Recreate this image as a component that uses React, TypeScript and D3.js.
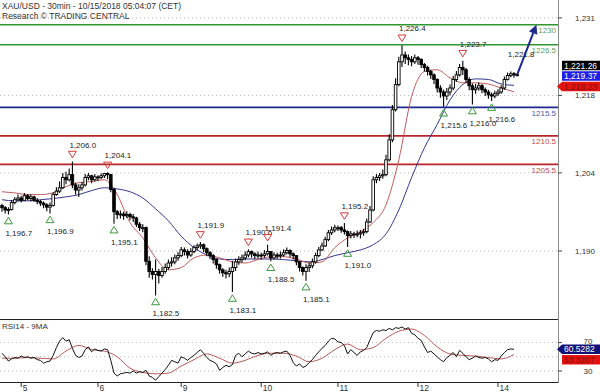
import React from 'react';
import * as d3 from 'd3';

const title = 'XAU/USD - 30min - 10/15/2018 05:04:07 (CET)';
const subtitle = 'Research \u00a9 TRADING CENTRAL';
const rsiTitle = 'RSI14 - 9MA';

const firstOpen = 1198.3;
const closes = [
  1197.9, 1197.5, 1197.6, 1198.8, 1199.3, 1199.6, 1199.2, 1200.0, 1199.5, 1199.8,
  1199.2, 1199.0, 1198.7, 1198.4, 1198.0, 1198.3, 1200.2, 1200.8, 1201.4, 1203.2,
  1202.8, 1203.7, 1201.9, 1201.0, 1201.4, 1201.9, 1203.2, 1203.5, 1202.8, 1203.3,
  1203.2, 1203.5, 1203.9, 1203.7, 1201.1, 1197.2, 1196.7, 1196.8, 1196.5, 1196.7,
  1196.3, 1196.1, 1195.0, 1194.4, 1194.4, 1188.5, 1186.7, 1186.2, 1186.7, 1186.0,
  1186.7, 1187.4, 1188.2, 1188.4, 1189.1, 1189.5, 1190.5, 1190.2, 1189.6, 1190.2,
  1190.9, 1191.2, 1191.4, 1190.7, 1190.0, 1189.5, 1188.8, 1187.9, 1187.0, 1186.5,
  1186.3, 1186.7, 1187.4, 1188.4, 1188.8, 1189.1, 1189.6, 1190.2, 1189.8, 1189.5,
  1189.6, 1189.5, 1189.8, 1190.2, 1189.1, 1189.6, 1189.5, 1189.6, 1190.0, 1190.4,
  1189.8, 1189.5, 1188.4, 1187.4, 1186.7, 1187.4, 1187.7, 1188.4, 1189.5, 1190.5,
  1191.2, 1192.3, 1193.5, 1194.0, 1194.4, 1194.4, 1194.0, 1193.7, 1193.0, 1193.3,
  1193.2, 1193.3, 1193.5, 1193.7, 1195.4, 1197.5, 1202.8, 1203.2, 1203.5, 1203.7,
  1206.3, 1209.8, 1215.1, 1219.5, 1223.5, 1224.7, 1224.2, 1223.9, 1223.5, 1224.2,
  1223.9, 1223.0, 1222.5, 1221.8, 1221.2, 1220.4, 1218.9, 1218.2, 1217.5, 1218.2,
  1218.9, 1220.4, 1221.2, 1222.5, 1222.1, 1220.4, 1219.3, 1218.6, 1218.9, 1219.3,
  1218.6, 1218.2, 1217.7, 1217.5, 1217.9, 1218.2, 1218.9, 1220.4, 1221.1, 1221.4,
  1221.2, 1221.26,
];
const highs = [
  1198.6, 1198.2, 1198.0, 1199.2, 1199.8, 1200.2, 1200.0, 1200.5, 1200.3, 1200.2,
  1200.0, 1199.6, 1199.3, 1199.0, 1198.7, 1198.8, 1200.6, 1201.5, 1202.5, 1204.0,
  1204.2, 1204.8, 1206.0, 1202.3, 1202.0, 1202.4, 1203.8, 1204.0, 1203.7, 1203.8,
  1203.6, 1203.9, 1204.0, 1204.1, 1203.8, 1201.4, 1197.5, 1197.4, 1197.2, 1197.3,
  1197.0, 1196.8, 1196.3, 1195.4, 1195.0, 1194.6, 1189.4, 1187.3, 1188.8, 1187.2,
  1187.5, 1188.1, 1188.8, 1189.2, 1189.7, 1190.1, 1191.0, 1190.9, 1190.6, 1190.8,
  1191.3, 1191.6, 1191.9, 1191.6, 1190.9, 1190.3, 1189.8, 1189.0, 1188.1, 1187.3,
  1187.0, 1187.4, 1188.6, 1189.0, 1189.4, 1189.7, 1190.2, 1190.6, 1190.4, 1190.1,
  1190.2, 1190.0, 1190.5, 1191.4, 1190.3, 1190.1, 1190.0, 1190.2, 1190.6, 1190.9,
  1190.6, 1190.1, 1189.6, 1188.5, 1187.6, 1188.0, 1188.3, 1189.0, 1190.0, 1191.0,
  1191.8, 1192.8, 1194.0, 1194.6, 1194.9, 1194.8, 1194.7, 1195.2, 1193.9, 1193.8,
  1193.7, 1193.9, 1194.0, 1194.2, 1196.0, 1198.2, 1203.4, 1203.8, 1204.0, 1204.6,
  1207.2, 1210.8, 1215.9, 1220.6, 1224.4, 1226.4, 1225.3, 1224.8, 1224.5, 1224.8,
  1224.5, 1224.1, 1223.3, 1222.8, 1222.1, 1221.5, 1220.6, 1219.4, 1218.6, 1218.9,
  1219.5, 1221.0, 1221.9, 1223.1, 1223.7, 1222.4, 1220.8, 1219.7, 1219.6, 1219.9,
  1219.6, 1219.0, 1218.6, 1218.1, 1218.4, 1218.7, 1219.4, 1220.9, 1221.6, 1221.8,
  1221.7, 1221.5,
];
const lows = [
  1197.2, 1196.9, 1196.7, 1197.4, 1198.5, 1199.0, 1198.8, 1199.1, 1199.2, 1199.0,
  1198.9, 1198.5, 1198.2, 1197.8, 1197.3, 1196.9, 1198.1, 1200.0, 1200.5, 1201.2,
  1202.0, 1202.5, 1201.3, 1200.2, 1199.8, 1200.9, 1201.6, 1202.7, 1202.2, 1202.5,
  1202.6, 1202.9, 1203.1, 1202.9, 1200.6, 1195.1, 1195.9, 1196.0, 1195.8, 1196.1,
  1195.7, 1195.4, 1194.5, 1193.8, 1193.6, 1187.8, 1185.6, 1185.3, 1182.5, 1184.6,
  1185.6, 1186.3, 1187.0, 1187.6, 1188.0, 1188.6, 1189.2, 1189.5, 1189.0, 1189.3,
  1189.9, 1190.4, 1190.7, 1190.1, 1189.4, 1188.9, 1188.1, 1187.2, 1186.3, 1185.8,
  1185.5, 1185.7, 1183.1, 1186.8, 1187.9, 1188.3, 1188.7, 1189.2, 1189.1, 1188.9,
  1189.0, 1188.8, 1189.1, 1189.5, 1188.5, 1188.8, 1188.9, 1189.0, 1189.3, 1189.7,
  1189.2, 1188.8, 1187.8, 1186.7, 1186.0, 1185.1, 1186.6, 1187.3, 1188.1, 1189.2,
  1190.3, 1191.0, 1192.0, 1193.1, 1193.6, 1193.8, 1193.5, 1193.2, 1191.0, 1192.5,
  1192.6, 1192.7, 1192.5, 1193.0, 1193.4, 1195.2, 1197.3, 1202.2, 1202.6, 1203.0,
  1203.4, 1206.0, 1209.4, 1214.8, 1219.2, 1222.6, 1223.1, 1222.9, 1222.7, 1223.1,
  1223.0, 1222.4, 1221.8, 1221.1, 1220.5, 1219.6, 1218.1, 1217.2, 1215.6, 1216.8,
  1217.6, 1218.5, 1220.0, 1220.9, 1221.2, 1219.8, 1218.5, 1216.0, 1217.9, 1218.4,
  1218.0, 1217.5, 1217.0, 1216.6, 1217.1, 1217.5, 1217.9, 1218.6, 1220.2, 1220.8,
  1220.7, 1220.9,
];

// moving averages, one reading every maStep bars
const maStep = 4;
const maFast = [
  1200.7, 1200.5, 1200.2, 1200.2, 1200.5, 1201.6, 1202.3, 1202.5, 1202.8, 1200.2,
  1195.3, 1192.6, 1189.1, 1187.0, 1187.4, 1189.1, 1189.6, 1189.1, 1188.4, 1188.2,
  1188.8, 1189.3, 1189.3, 1188.9, 1188.2, 1188.4, 1190.9, 1192.6, 1193.7, 1195.3,
  1198.4, 1206.3, 1217.4, 1221.8, 1222.1, 1220.7, 1219.8, 1219.8, 1219.6, 1218.9,
  1218.23,
];
const maSlow = [
  1199.3, 1199.1, 1199.1, 1199.3, 1199.5, 1199.8, 1200.2, 1200.9, 1201.4, 1201.2,
  1200.7, 1199.6, 1197.7, 1195.6, 1192.9, 1190.9, 1189.6, 1188.9, 1188.8, 1188.9,
  1188.9, 1188.9, 1188.8, 1188.6, 1188.4, 1188.8, 1189.5, 1190.0, 1190.5, 1191.4,
  1193.3, 1197.5, 1203.2, 1208.4, 1212.5, 1216.8, 1219.5, 1220.5, 1220.4, 1219.6,
  1219.37,
];

const rsi = [
  55, 50, 44, 47, 49, 48, 51, 49, 50, 48, 49, 46, 45, 41, 43, 44, 52, 63, 72, 77,
  72, 74, 62, 52, 49, 51, 60, 64, 57, 61, 59, 58, 61, 60, 45, 27, 23, 26, 27, 28,
  27, 30, 27, 29, 28, 31, 23, 21, 17, 22, 27, 32, 38, 45, 43, 41, 50, 48, 45, 49,
  52, 56, 60, 55, 49, 45, 43, 40, 31, 35, 38, 36, 39, 52, 55, 50, 54, 58, 55, 54,
  56, 54, 55, 57, 52, 55, 56, 55, 57, 58, 52, 42, 37, 40, 35, 37, 42, 46, 52, 57,
  62, 66, 72, 76, 75, 71, 70, 66, 54, 60, 56, 52, 57, 59, 63, 74, 84, 87, 86, 88,
  87, 90, 88, 91, 90, 92, 89, 91, 83, 81, 76, 73, 64, 56, 58, 54, 50, 46, 43, 49,
  52, 56, 50, 59, 55, 50, 46, 48, 51, 49, 48, 49, 47, 43, 46, 45, 51, 56, 60, 61,
  60.5282,
];
const rsiMa = [
  48, 48, 49, 48, 47, 58, 66, 60, 58, 50, 34, 28, 26, 27, 37, 46, 54, 48, 41, 45,
  52, 55, 55, 51, 43, 48, 60, 68, 60, 63, 76, 86, 89, 80, 64, 54, 52, 51, 49, 47,
  53.3207,
];

const levelValues = [1230, 1226.5, 1215.5, 1210.5, 1205.5];
const levelKinds = ['target', 'target', 'pivot', 'support', 'support'];

const priceTicks = [1190.3, 1204.0, 1217.6, 1231.2];
const rsiGrid = [30, 50, 70];
const rsiTickLabels = [30, 70];

const dayTickIdx = [6, 30, 56, 81, 105, 130, 155];
const dayLabels = ['5', '6', '9', '10', '11', '12', '14'];

const peakIdx = [22, 33, 62, 77, 83, 107, 125, 144];
const troughIdx = [2, 15, 35, 48, 72, 84, 95, 108, 138, 147, 153];
const peakLabelOnlyIdx = [159];

const arrowToIndex = 167;
const arrowToValue = 1230;

const FONT = '"Liberation Sans", Arial, sans-serif';

export default function App() {
  const W = 600;
  const H = 392;
  const plotRight = 558;
  const n = closes.length;
  const x = d3.scaleLinear().domain([0, n - 1]).range([2, 517.2]);
  const y = d3.scaleLinear().domain([1178.2, 1234.34]).range([320, 0]);
  const yr = d3.scaleLinear().domain([14.5, 101.8]).range([382, 320]);

  const opens = closes.map((c, i) => (i === 0 ? firstOpen : closes[i - 1]));
  const f1 = d3.format(',.1f');
  const f0 = d3.format(',.0f');
  const f2 = d3.format(',.2f');
  const f4 = d3.format('.4f');

  const maLine = d3
    .line<number>()
    .x((_, i) => x(i * maStep))
    .y((v) => y(v))
    .curve(d3.curveMonotoneX);
  const rsiLine = d3
    .line<number>()
    .x((_, i) => x(i))
    .y((v) => yr(v));
  const rsiMaLine = d3
    .line<number>()
    .x((_, i) => x(i * maStep))
    .y((v) => yr(v))
    .curve(d3.curveMonotoneX);

  const levelColor: Record<string, string> = {
    target: '#2f982f',
    pivot: '#1b2a8c',
    support: '#b8242a',
  };
  const levelText: Record<string, string> = {
    target: '#5aa35a',
    pivot: '#4b5aa8',
    support: '#c24a4a',
  };

  const tri = (cx: number, cy: number, down: boolean) => {
    const w = 4;
    const h = 6.5;
    return down
      ? `M${cx - w},${cy - h / 2}L${cx + w},${cy - h / 2}L${cx},${cy + h / 2}Z`
      : `M${cx - w},${cy + h / 2}L${cx + w},${cy + h / 2}L${cx},${cy - h / 2}Z`;
  };

  // arrow
  const ax0 = x(n - 1);
  const ay0 = y(closes[n - 1]);
  const ax1 = x(arrowToIndex);
  const ay1 = y(arrowToValue);
  const ang = Math.atan2(ay1 - ay0, ax1 - ax0);
  const ah = 9;
  const aw = 4.5;
  const bx = ax1 - ah * Math.cos(ang);
  const by = ay1 - ah * Math.sin(ang);
  const head = `M${ax1},${ay1}L${bx + aw * Math.sin(ang)},${by - aw * Math.cos(ang)}L${bx - aw * Math.sin(ang)},${by + aw * Math.cos(ang)}Z`;

  // tags on the price axis
  const lastFast = maFast[maFast.length - 1];
  const lastSlow = maSlow[maSlow.length - 1];
  const lastPrice = closes[n - 1];
  const tagH = 9.5;
  const tagBlackY = y(lastPrice) - 9;
  const tags = [
    { v: lastPrice, cy: tagBlackY, fill: '#000000', text: '#ffffff', pointer: false },
    { v: lastSlow, cy: tagBlackY + 10.5, fill: '#1f1fe6', text: '#ffffff', pointer: false },
    { v: lastFast, cy: tagBlackY + 21, fill: '#e3140f', text: '#8a0a0a', pointer: true },
  ];
  const lastRsi = rsi[rsi.length - 1];
  const lastRsiMa = rsiMa[rsiMa.length - 1];
  const rsiTagY = yr(lastRsi);
  const rsiTags = [
    { v: lastRsi, cy: rsiTagY, fill: '#111177', text: '#ffffff', pointer: true },
    { v: lastRsiMa, cy: rsiTagY + 10.5, fill: '#e3140f', text: '#8a0a0a', pointer: false },
  ];
  const tagPath = (cy: number, pointer: boolean) =>
    pointer
      ? `M557,${cy}L562,${cy - tagH / 2}L600,${cy - tagH / 2}L600,${cy + tagH / 2}L562,${cy + tagH / 2}Z`
      : `M562,${cy - tagH / 2}L600,${cy - tagH / 2}L600,${cy + tagH / 2}L562,${cy + tagH / 2}Z`;

  return (
    <div style={{ position: 'fixed', left: 0, top: 0, width: W, height: H, background: '#fff' }}>
      <svg width={W} height={H} style={{ display: 'block', fontFamily: FONT }}>
        <defs>
          <clipPath id="mainClip">
            <rect x={0} y={0} width={plotRight} height={319} />
          </clipPath>
          <clipPath id="rsiClip">
            <rect x={0} y={319.5} width={plotRight} height={63} />
          </clipPath>
        </defs>
        <rect x={0} y={0} width={W} height={H} fill="#ffffff" />

        {/* grid */}
        {priceTicks.map((t) => (
          <line key={'g' + t} x1={0} x2={plotRight} y1={y(t)} y2={y(t)} stroke="#b8b8b8" strokeDasharray="1,3" />
        ))}
        {rsiGrid.map((t) => (
          <line key={'rg' + t} x1={0} x2={plotRight} y1={yr(t)} y2={yr(t)} stroke="#b8b8b8" strokeDasharray="1,3" />
        ))}

        {/* header */}
        <text x={2} y={8.5} fontSize={8.5} fill="#333">{title}</text>
        <text x={2} y={18.5} fontSize={8.5} fill="#333">{subtitle}</text>

        <g clipPath="url(#mainClip)">
          {/* levels */}
          {levelValues.map((v, i) => (
            <g key={'lv' + v}>
              <line x1={0} x2={plotRight} y1={y(v)} y2={y(v)} stroke={levelColor[levelKinds[i]]} strokeWidth={1.6} />
              <text x={plotRight - 2} y={y(v) + 8.5} fontSize={8} textAnchor="end" fill={levelText[levelKinds[i]]}>
                {String(v)}
              </text>
            </g>
          ))}

          {/* moving averages */}
          <path d={maLine(maSlow) || ''} fill="none" stroke="#35358f" strokeWidth={1} />
          <path d={maLine(maFast) || ''} fill="none" stroke="#c25b5b" strokeWidth={1} />

          {/* candles */}
          {closes.map((c, i) => {
            const o = opens[i];
            const up = c >= o;
            const top = y(Math.max(o, c));
            const bot = y(Math.min(o, c));
            return (
              <g key={'c' + i}>
                <line x1={x(i)} x2={x(i)} y1={y(highs[i])} y2={y(lows[i])} stroke="#000" strokeWidth={1.1} />
                <rect
                  x={x(i) - 1.3}
                  y={top}
                  width={2.6}
                  height={Math.max(1, bot - top)}
                  fill={up ? '#ffffff' : '#000000'}
                  stroke="#000"
                  strokeWidth={0.9}
                />
              </g>
            );
          })}

          {/* annotations */}
          {peakIdx.map((i) => (
            <g key={'p' + i}>
              <path d={tri(x(i), y(highs[i]) - 7, true)} fill="none" stroke="#d23c3c" strokeWidth={1} />
              <text x={x(i) - 3} y={y(highs[i]) - 14} fontSize={8} fill="#222">{f1(highs[i])}</text>
            </g>
          ))}
          {peakLabelOnlyIdx.map((i) => (
            <text key={'pl' + i} x={x(i) - 3} y={y(highs[i]) - 14} fontSize={8} fill="#222">{f1(highs[i])}</text>
          ))}
          {troughIdx.map((i) => (
            <g key={'t' + i}>
              <path d={tri(x(i), y(lows[i]) + 6, false)} fill="none" stroke="#3c9a3c" strokeWidth={1} />
              <text x={x(i) - 3} y={y(lows[i]) + 21} fontSize={8} fill="#222">{f1(lows[i])}</text>
            </g>
          ))}

          {/* projection arrow */}
          <line x1={ax0} y1={ay0} x2={bx} y2={by} stroke="#1b2a8c" strokeWidth={2} />
          <path d={head} fill="#1b2a8c" />
        </g>

        {/* RSI panel */}
        <line x1={0} x2={plotRight} y1={319.5} y2={319.5} stroke="#222" strokeWidth={1} />
        <line x1={0} x2={plotRight} y1={382.5} y2={382.5} stroke="#222" strokeWidth={1} />
        <text x={2} y={328.5} fontSize={8} fill="#333">{rsiTitle}</text>
        <g clipPath="url(#rsiClip)">
          <path d={rsiMaLine(rsiMa) || ''} fill="none" stroke="#b85a5a" strokeWidth={1} />
          <path d={rsiLine(rsi) || ''} fill="none" stroke="#111" strokeWidth={1} />
        </g>

        {/* right axis */}
        <line x1={plotRight + 0.5} x2={plotRight + 0.5} y1={0} y2={383} stroke="#8a8a8a" strokeWidth={1} />
        {priceTicks.map((t) => (
          <g key={'pt' + t}>
            <line x1={plotRight} x2={plotRight + 4} y1={y(t)} y2={y(t)} stroke="#444" />
            <text x={575} y={y(t) + 3} fontSize={8} fill="#333">{f0(t)}</text>
          </g>
        ))}
        {rsiTickLabels.map((t) => (
          <g key={'rt' + t}>
            <line x1={plotRight} x2={plotRight + 4} y1={yr(t)} y2={yr(t)} stroke="#444" />
            <text x={588} y={yr(t) + (t === 70 ? 1.5 : 3)} fontSize={8} textAnchor="middle" fill="#333">{t}</text>
          </g>
        ))}

        {/* bottom axis */}
        {dayTickIdx.map((idx, k) => (
          <g key={'d' + idx}>
            <line x1={x(idx)} x2={x(idx)} y1={383} y2={387} stroke="#333" />
            <text x={x(idx) + 1.5} y={390.5} fontSize={8.5} fill="#333">{dayLabels[k]}</text>
          </g>
        ))}

        {/* value tags */}
        {tags.map((t, k) => (
          <g key={'tag' + k}>
            <path d={tagPath(t.cy, t.pointer)} fill={t.fill} />
            <text x={564} y={t.cy + 3} fontSize={8.5} fill={t.text}>{f2(t.v)}</text>
          </g>
        ))}
        {rsiTags.map((t, k) => (
          <g key={'rtag' + k}>
            <path d={tagPath(t.cy, t.pointer)} fill={t.fill} />
            <text x={564} y={t.cy + 3} fontSize={8.5} fill={t.text}>{f4(t.v)}</text>
          </g>
        ))}
      </svg>
    </div>
  );
}
